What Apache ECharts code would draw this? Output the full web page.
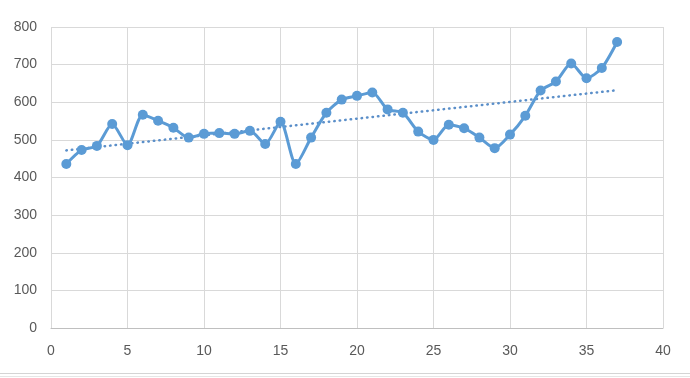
<!DOCTYPE html>
<html>
<head>
<meta charset="utf-8">
<script src="https://cdn.jsdelivr.net/npm/echarts@6/dist/echarts.min.js"></script>
<style>
html,body{margin:0;padding:0;background:#fff;}
#main{width:690px;height:378px;}
</style>
</head>
<body>
<div id="main"></div>
<script>
// x positions 1..37 and the values
var xs = [1,2,3,4,5,6,7,8,9,10,11,12,13,14,15,16,17,18,19,20,21,22,23,24,25,26,27,28,29,30,31,32,33,34,35,36,37];
var values = [436,473,484,542,486,567,551,532,506,516,518,516,524,489,548,436,506,572,607,617,626,581,572,522,500,540,531,506,478,514,564,631,655,703,664,691,760];
// linear trendline end points
var trendX = [1,37];
var trendY = [472,632];
var xTicks = [0,5,10,15,20,25,30,35,40];
var yTicks = [0,100,200,300,400,500,600,700,800];

window.onload=function(){
	var myChart = echarts.init(document.getElementById('main'));
	var lineData = [];
	for(var i=0;i<xs.length;i++){
		lineData.push([xs[i],values[i]]);
	}
	var trendData = [];
	for(var j=0;j<trendX.length;j++){
		trendData.push([trendX[j],trendY[j]]);
	}
	var labelFont = {color:'#595959',fontSize:14,fontFamily:'Liberation Sans Narrow, Liberation Sans, sans-serif'};

	var option = {
		animation:false,
		grid:{left:51,right:27,top:27,bottom:50},
		xAxis:{
			type:'value',
			min:xTicks[0],
			max:xTicks[xTicks.length-1],
			interval:5,
			axisLine:{show:true,lineStyle:{color:'#bfbfbf',width:1}},
			axisTick:{show:false},
			splitLine:{show:true,lineStyle:{color:'#d9d9d9',width:1}},
			axisLabel:Object.assign({margin:16},labelFont)
		},
		yAxis:{
			type:'value',
			min:yTicks[0],
			max:yTicks[yTicks.length-1],
			interval:100,
			axisLine:{show:false},
			axisTick:{show:false},
			splitLine:{show:true,lineStyle:{color:'#d9d9d9',width:1}},
			axisLabel:Object.assign({margin:14},labelFont)
		},
		graphic:[
			{type:'line',shape:{x1:0,y1:373.5,x2:690,y2:373.5},style:{stroke:'#d4d4d4',lineWidth:1}},
			{type:'line',shape:{x1:0,y1:376.5,x2:690,y2:376.5},style:{stroke:'#e6e6e6',lineWidth:1}}
		],
		series:[
			{
				type:'line',
				data:trendData,
				showSymbol:false,
				silent:true,
				lineStyle:{color:'#5b8fc9',width:2.5,type:[0.5,5],cap:'round'},
				z:1
			},
			{
				type:'line',
				data:lineData,
				smooth:0.25,
				symbol:'circle',
				symbolSize:10,
				itemStyle:{color:'#5b9bd5'},
				lineStyle:{color:'#5b9bd5',width:3},
				z:2
			}
		]
	};
	myChart.setOption(option);
}
</script>
</body>
</html>
